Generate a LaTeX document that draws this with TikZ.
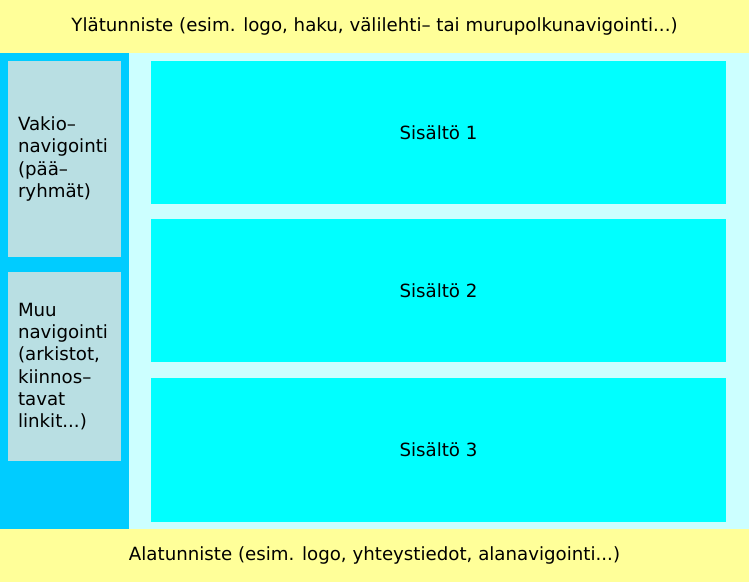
\documentclass[tikz,border=0pt]{standalone}
\usepackage{fontspec}
\setmainfont{DejaVu Sans}
\definecolor{hdr}{HTML}{FFFF99}
\definecolor{side}{HTML}{00CCFF}
\definecolor{bgc}{HTML}{CCFFFF}
\definecolor{navc}{HTML}{B9DFE3}
\definecolor{cont}{HTML}{00FFFF}
\tikzset{
  area/.style={draw=none, inner sep=0pt, outer sep=0pt, anchor=north west},
  navbox/.style={area, fill=navc, minimum width=113pt, align=left, text width=93pt, inner xsep=10pt,
    font=\fontsize{18.2}{22.3}\selectfont},
  contbox/.style={area, fill=cont, minimum width=575pt, minimum height=143pt, font=\fontsize{18.2}{22}\selectfont},
  bandtext/.style={font=\fontsize{18.2}{22}\selectfont, inner sep=0pt}
}
\begin{document}
\begin{tikzpicture}[x=1pt,y=-1pt]
\useasboundingbox (0,0) rectangle (749,582);
% bands
\node[area, fill=hdr, minimum width=749pt, minimum height=53pt] (header) at (0,0) {};
\node[area, fill=bgc, minimum width=620pt, minimum height=476pt] (main) at (129,53) {};
\node[area, fill=side, minimum width=129pt, minimum height=476pt] (sidebar) at (0,53) {};
\node[area, fill=hdr, minimum width=749pt, minimum height=53pt] (footer) at (0,529) {};
\node[bandtext] (htext) at (header.center) {Ylätunniste (esim. logo, haku, välilehti– tai murupolkunavigointi...)};
\node[bandtext] (ftext) at (footer.center) {Alatunniste (esim. logo, yhteystiedot, alanavigointi...)};
% navigation boxes
\node[navbox, minimum height=196pt] (nav1) at (8,61) {Vakio–\\navigointi\\(pää–\\ryhmät)};
\node[navbox, minimum height=189pt] (nav2) at (8,272) {Muu\\navigointi\\(arkistot,\\kiinnos–\\tavat\\linkit...)};
% content boxes
\node[contbox] (c1) at (151,61) {Sisältö 1};
\node[contbox] (c2) at (151,219) {Sisältö 2};
\node[contbox, minimum height=144pt] (c3) at (151,378) {Sisältö 3};
\end{tikzpicture}
\end{document}
